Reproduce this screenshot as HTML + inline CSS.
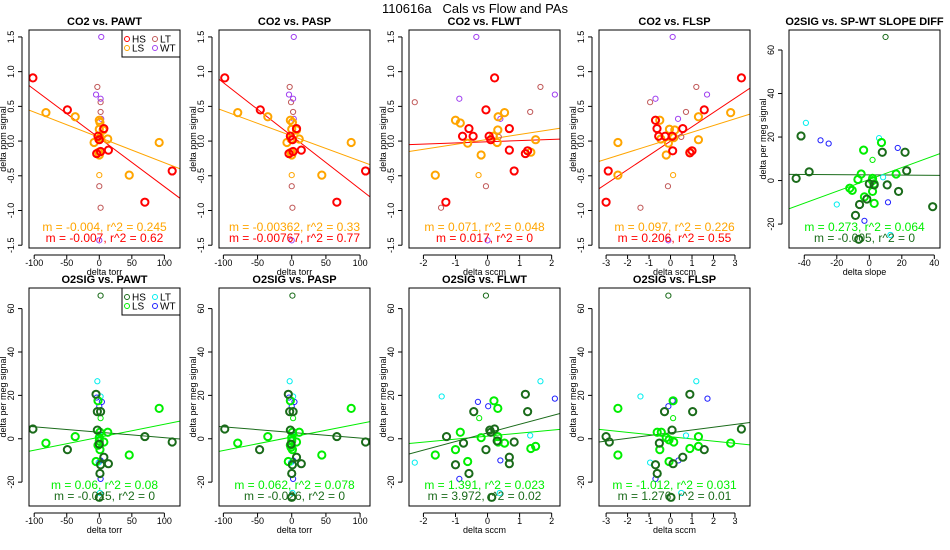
<!DOCTYPE html>
<html><head><meta charset="utf-8">
<style>
html,body{margin:0;padding:0;background:#fff;}
svg{display:block;font-family:"Liberation Sans",Arial,sans-serif;}
</style></head>
<body>
<svg id="chart" width="950" height="550" viewBox="0 0 950 550" xmlns="http://www.w3.org/2000/svg">
<text x="475" y="13" font-size="13" text-anchor="middle" xml:space="preserve">110616a&#160;&#160;&#160;Cals vs Flow and PAs</text>
</svg>
<script>
// ---- data (x, y pairs per group) ----
const co2PawtHS=[[-102,0.91],[-49,0.45],[-2,0.07],[0,0.02],[7,0.18],[14,-0.13],[2,-0.15],[-4,-0.18],[70,-0.88],[112,-0.43]];
const co2PawtLS=[[-82,0.41],[-37,0.35],[0,0.3],[1,0.27],[0,0.17],[6,0.16],[13,0.03],[-1,0.03],[-8,-0.02],[0,-0.2],[-1,-0.16],[46,-0.49],[92,-0.02],[1,0.05]];
const co2PawtLT=[[-3,0.78],[2,0.56],[2,0.42],[1,0.06],[0,-0.65],[2,-0.96]];
const co2PawtLSthin=[[0,-0.49]];
const co2PawtWT=[[3,1.5],[-5,0.67],[2,0.61],[3,0.32],[0,-1.43]];

const co2PaspHS=[[-98,0.91],[-46,0.45],[-2,0.07],[1,0.02],[7,0.18],[14,-0.13],[2,-0.15],[-4,-0.18],[66,-0.88],[108,-0.43]];
const co2PaspLS=[[-79,0.41],[-35,0.35],[-2,0.3],[1,0.27],[0,0.17],[7,0.16],[11,0.03],[-1,0.03],[-7,-0.02],[0,-0.2],[-1,-0.16],[44,-0.49],[87,-0.02]];
const co2PaspLT=[[-3,0.78],[-1,0.56],[2,0.42],[0,0.06],[0,-0.65],[1,-0.96]];
const co2PaspLSthin=[[0,-0.49]];
const co2PaspWT=[[3,1.5],[-4,0.67],[2,0.61],[3,0.32],[0,-1.43]];

const co2FlwtHS=[[0.22,0.91],[-0.05,0.45],[-0.58,0.18],[-0.78,0.07],[-0.45,0.07],[0.05,0.07],[0.1,0.02],[0.68,0.18],[0.68,-0.13],[1.18,-0.18],[1.25,-0.14],[0.83,-0.43],[-1.3,-0.88]];
const co2FlwtLS=[[-1.0,0.3],[-0.85,0.26],[0.53,0.41],[0.33,0.35],[0.32,0.16],[0.18,0.07],[-0.62,-0.03],[0.3,-0.02],[1.5,0.02],[1.35,-0.16],[-0.2,-0.2],[-1.63,-0.49]];
const co2FlwtLT=[[-2.27,0.56],[1.65,0.78],[1.33,0.42],[0.35,0.06],[-1.45,-0.96],[-0.05,-0.65]];
const co2FlwtLSthin=[[-0.28,-0.49]];
const co2FlwtWT=[[-0.35,1.5],[-0.88,0.61],[2.1,0.67],[0.4,0.32],[0.0,-1.43]];

const co2FlspHS=[[3.3,0.91],[1.57,0.45],[0.57,0.18],[-0.7,0.3],[-0.63,0.18],[-0.55,0.07],[-0.25,0.07],[0.08,0.07],[0.1,-0.14],[1.0,-0.14],[0.9,-0.17],[-2.9,-0.43],[-3.0,-0.88]];
const co2FlspLS=[[2.8,0.41],[1.3,0.35],[-0.5,0.3],[-0.05,0.17],[0.2,0.16],[-0.45,0.03],[0.15,0.05],[-0.1,-0.03],[1.3,0.02],[0.9,-0.16],[-0.2,-0.2],[-2.45,-0.02],[-2.45,-0.49]];
const co2FlspLT=[[1.2,0.78],[-0.95,0.56],[0.72,0.42],[0.5,0.06],[-0.12,-0.65],[-1.4,-0.96]];
const co2FlspLSthin=[[0.12,-0.49]];
const co2FlspWT=[[0.1,1.5],[-0.7,0.61],[1.7,0.67],[0.35,0.32],[-0.1,-1.43]];

const o2SlopeHS=[[-45,1],[-42,20.5],[-37,4],[-6,-11],[-8.5,-16],[-6.5,-27],[-1.5,-8.5],[0,-1.5],[8,13],[11,-2],[18,-5],[22,13],[23,4.5],[39,-12],[3,-2]];
const o2SlopeLS=[[-3.5,14],[-5,3],[-7,0.5],[-12,-3.5],[-10.5,-4.5],[-3,-7.5],[2,-5],[3,-10.5],[2,1],[3,-1.5],[7.5,17.5],[16.5,3],[2,0]];
const o2SlopeLSthin=[[2,9.5]];
const o2SlopeHSthin=[[10,66]];
const o2SlopeLT=[[-39,26.5],[-20,-11],[6,19.5],[8.5,1.5],[13,-25]];
const o2SlopeWT=[[-30,18.5],[-25,17],[17.5,15],[11.5,-10],[-3,-18.5]];

const o2PawtHS=[[-102,4.5],[-49,-5],[-5,20.5],[-3,12.5],[2,12.5],[-3,4],[0,-2.5],[7,-8.5],[14,-11.5],[2,-12],[1,-16],[0,-27],[70,1],[112,-1.5]];
const o2PawtLS=[[-82,-2],[-37,1],[-2,17.5],[1,3],[13,3],[0,0.5],[-2,-3],[7,-1.5],[1,-5],[-5,-10.5],[46,-7.5],[92,14],[0,-1]];
const o2PawtLSthin=[[2,9.5],[2,0]];
const o2PawtHSthin=[[2,66]];
const o2PawtLT=[[-3,26.5],[2,19.5],[1,1.5],[-1,-11],[1,-25]];
const o2PawtWT=[[-4,19],[0,15],[4,17],[2,-10],[2,-18.5]];

const o2PaspHS=[[-98,4.5],[-47,-5],[-5,20.5],[-3,12.5],[2,12.5],[-2,4],[-1,-2.5],[7,-8.5],[14,-11.5],[1,-12],[0,-16],[0,-27],[66,1],[108,-1.5]];
const o2PaspLS=[[-79,-2],[-35,1],[-2,17.5],[1,3],[11,3],[0,0.5],[-2,-3],[7,-1.5],[1,-5],[-5,-10.5],[44,-7.5],[87,14],[0,-1],[-1,-4]];
const o2PaspLSthin=[[2,9.5],[1,0]];
const o2PaspHSthin=[[1,66]];
const o2PaspLT=[[-3,26.5],[2,19.5],[1,1.5],[-1,-11],[1,-25]];
const o2PaspWT=[[-4,19],[0,15],[4,17],[2,-10],[2,-18.5]];

const o2FlwtHS=[[-1.28,1],[-0.75,-2],[-1.0,-12],[-0.58,-16],[-0.43,12.5],[-0.05,-5],[0.07,4],[0.22,4.5],[0.1,3],[0.3,-1],[0.83,-1.5],[0.68,-8.5],[0.68,-11.5],[1.18,20.5],[1.25,12.5],[0.13,-27]];
const o2FlwtLS=[[-1.63,-7.5],[-1.0,-5],[-0.85,3],[-0.62,-10.5],[-0.2,0.5],[0.2,17.5],[0.32,14],[0.32,1],[0.33,-1.5],[0.53,-2],[1.35,-4.5],[1.5,-3.5]];
const o2FlwtLSthin=[[-0.26,9.5]];
const o2FlwtHSthin=[[-0.05,66]];
const o2FlwtLT=[[-2.27,-11],[-1.43,19.5],[1.33,1.5],[1.65,26.5],[0.38,-25]];
const o2FlwtWT=[[-0.3,17],[0.02,15],[2.1,18.5],[0.4,-10],[-0.88,-18.5]];

const o2FlspHS=[[-3.0,1],[-2.85,-1.5],[-0.7,-12],[-0.62,-16],[-0.52,-2],[-0.28,12.5],[0.07,4],[0.12,-11.5],[0.57,-8.5],[0.9,20.5],[1.03,12.5],[1.57,-5],[3.3,4.5],[0.02,-27]];
const o2FlspLS=[[-2.45,14],[-2.45,-7.5],[-0.62,3],[-0.43,3],[-0.5,-5],[-0.2,0.5],[-0.07,-0.5],[0.15,-1.5],[0.12,17.5],[-0.07,-10.5],[0.9,-4.5],[1.3,1],[1.3,-3.5],[2.8,-2]];
const o2FlspLSthin=[[0.12,9.5]];
const o2FlspHSthin=[[-0.1,66]];
const o2FlspLT=[[-1.4,19.5],[-0.95,-11],[0.72,1.5],[1.2,26.5],[0.5,-25]];
const o2FlspWT=[[-0.1,15],[0.1,17.5],[1.72,18.5],[0.37,-10],[-0.7,-18.5]];

// regression lines [slope, intercept]
const fitCo2Pawt=[[-0.00365,0.053],[-0.007,0.044]];
const fitCo2Pasp=[[-0.00362,0.075],[-0.00767,0.074]];
const fitCo2Flwt=[[0.071,0.024],[0.017,-0.01]];
const fitCo2Flsp=[[0.097,0.03],[0.206,0.0]];
const fitO2Slope=[[0.273,0.5],[-0.005,2.6]];
const fitO2Pawt=[[0.06,0.7],[-0.025,3.0]];
const fitO2Pasp=[[0.062,0.8],[-0.026,2.9]];
const fitO2Flwt=[[1.391,1.2],[3.972,2.7]];
const fitO2Flsp=[[-1.012,0.93],[1.276,2.75]];

// stats text
const statsCo2=[["m = -0.004, r^2 = 0.245","m = -0.007, r^2 = 0.62"],["m = -0.00362, r^2 = 0.33","m = -0.00767, r^2 = 0.77"],["m = 0.071, r^2 = 0.048","m = 0.017, r^2 = 0"],["m = 0.097, r^2 = 0.226","m = 0.206, r^2 = 0.55"]];
const statsO2=[["m = 0.273, r^2 = 0.064","m = -0.005, r^2 = 0"],["m = 0.06, r^2 = 0.08","m = -0.025, r^2 = 0"],["m = 0.062, r^2 = 0.078","m = -0.026, r^2 = 0"],["m = 1.391, r^2 = 0.023","m = 3.972, r^2 = 0.02"],["m = -1.012, r^2 = 0.031","m = 1.276, r^2 = 0.01"]];

const ticksTorr=[-100,-50,0,50,100];
const ticksFlwt=[-2,-1,0,1,2];
const ticksFlsp=[-3,-2,-1,0,1,2,3];
const ticksSlope=[-40,-20,0,20,40];
const ticksCo2=[-1.5,-1.0,-0.5,0.0,0.5,1.0,1.5];
const ticksO2=[-20,0,20,40,60];

const NS="http://www.w3.org/2000/svg";
const svg=document.getElementById('chart');
function mk(tag,attrs,parent){const e=document.createElementNS(NS,tag);for(const k in attrs)e.setAttribute(k,attrs[k]);(parent||svg).appendChild(e);return e;}

const C={HS:'#ff0000',LS:'#ffa500',LT:'#c05858',WT:'#a040f0',HS2:'#1a6b1a',LS2:'#00ee00',LT2:'#00eeee',WT2:'#2020ff'};

function panel(cfg){
  const g=mk('g',{});
  
  
  const [L,R,T,B]=cfg.box;
  const sx=v=>L+(v-cfg.xr[0])/(cfg.xr[1]-cfg.xr[0])*(R-L);
  const sy=v=>B-(v-cfg.yr[0])/(cfg.yr[1]-cfg.yr[0])*(B-T);
  const t=mk('text',{x:(L+R)/2,y:T-5,'font-size':11,'font-weight':'bold','text-anchor':'middle'},g);
  t.textContent=cfg.title;
  
  
  const clip='clip'+cfg.name;
  const cp=mk('clipPath',{id:clip},g);mk('rect',{x:L,y:T,width:R-L,height:B-T},cp);
  const pg=mk('g',{'clip-path':'url(#'+clip+')'},g);
  cfg.fits.forEach((f,i)=>{
    const ln=mk('line',{x1:sx(cfg.xr[0]),y1:sy(f[0]*cfg.xr[0]+f[1]),x2:sx(cfg.xr[1]),y2:sy(f[0]*cfg.xr[1]+f[1]),stroke:cfg.fitColors[i],'stroke-width':1},pg);
    
    
  });
  cfg.groups.forEach(gr=>{
    gr.pts.forEach(p=>{
      const c=mk('circle',{cx:sx(p[0]),cy:sy(p[1]),r:gr.thick?3.6:2.6,fill:'none',stroke:gr.color,'stroke-width':gr.thick?2:1},pg);
      
      
    });
  });
  cfg.stats.forEach((s,i)=>{
    const st=mk('text',{x:(L+R)/2,y:B-(i===0?17:6),'font-size':12,'text-anchor':'middle',fill:cfg.fitColors[i]},g);
    st.textContent=s;
    
    
  });
  mk('rect',{x:L,y:T,width:R-L,height:B-T,fill:'none',stroke:'#000','stroke-width':1},g);
  const xt=cfg.xticks;
  mk('line',{x1:sx(xt[0]),y1:B+7,x2:sx(xt[xt.length-1]),y2:B+7,stroke:'#000'},g);
  xt.forEach(v=>{
    mk('line',{x1:sx(v),y1:B+7,x2:sx(v),y2:B+11,stroke:'#000'},g);
    const tl=mk('text',{x:sx(v),y:B+18,'font-size':9,'text-anchor':'middle'},g);
    tl.textContent=v;
    
    
  });
  const xa=mk('text',{x:(L+R)/2,y:B+27,'font-size':9,'text-anchor':'middle'},g);
  xa.textContent=cfg.xlab;
  
  
  const yt=cfg.yticks;
  mk('line',{x1:L-7,y1:sy(yt[0]),x2:L-7,y2:sy(yt[yt.length-1]),stroke:'#000'},g);
  yt.forEach(v=>{
    mk('line',{x1:L-7,y1:sy(v),x2:L-11,y2:sy(v),stroke:'#000'},g);
    const yl=mk('text',{x:L-15,y:sy(v),'font-size':9,'text-anchor':'middle',transform:`rotate(-90 ${L-15} ${sy(v)})`},g);
    yl.textContent=cfg.yfmt(v);
    
    
  });
  const ya=mk('text',{x:L-23,y:(T+B)/2,'font-size':9,'text-anchor':'middle',transform:`rotate(-90 ${L-23} ${(T+B)/2})`},g);
  ya.textContent=cfg.ylab;
  
  
  if(cfg.legend){
    const lg=mk('g',{},g);
    
    
    mk('rect',{x:R-58,y:T,width:58,height:27,fill:'#fff',stroke:'#000'},lg);
    cfg.legend.forEach((e,i)=>{
      const cx=R-53+(i%2)*28, cy=T+9+Math.floor(i/2)*9;
      mk('circle',{cx:cx,cy:cy,r:2.5,fill:'none',stroke:e[1],'stroke-width':1},lg);
      const lt=mk('text',{x:cx+5,y:cy+3.5,'font-size':10},lg);
      lt.textContent=e[0];
      
      
    });
  }
}
const fmt1=v=>v.toFixed(1), fmt0=v=>String(v);
const r1=[30,248], r2=[288,506];
const co2yr=[-1.54,1.60], o2yr=[-31,69.5];
const yl1='delta ppm signal', yl2='delta per meg signal';
function co2Groups(hs,ls,lt,lsthin,wt){return [{pts:lt,color:C.LT},{pts:lsthin,color:C.LS},{pts:wt,color:C.WT},{pts:ls,color:C.LS,thick:1},{pts:hs,color:C.HS,thick:1}];}
function o2Groups(hs,ls,lsthin,hsthin,lt,wt){return [{pts:lt,color:C.LT2},{pts:wt,color:C.WT2},{pts:lsthin,color:C.LS2},{pts:hsthin,color:C.HS2},{pts:ls,color:C.LS2,thick:1},{pts:hs,color:C.HS2,thick:1}];}

panel({name:'co2-vs-pawt',title:'CO2 vs. PAWT',box:[29,180,...r1],xr:[-108,124],yr:co2yr,xticks:ticksTorr,yticks:ticksCo2,yfmt:fmt1,xlab:'delta torr',ylab:yl1,fits:fitCo2Pawt,fitColors:[C.LS,C.HS],stats:statsCo2[0],groups:co2Groups(co2PawtHS,co2PawtLS,co2PawtLT,co2PawtLSthin,co2PawtWT),legend:[['HS',C.HS],['LT',C.LT],['LS',C.LS],['WT',C.WT]]});
panel({name:'co2-vs-pasp',title:'CO2 vs. PASP',box:[219,370,...r1],xr:[-106.4,114.5],yr:co2yr,xticks:ticksTorr,yticks:ticksCo2,yfmt:fmt1,xlab:'delta torr',ylab:yl1,fits:fitCo2Pasp,fitColors:[C.LS,C.HS],stats:statsCo2[1],groups:co2Groups(co2PaspHS,co2PaspLS,co2PaspLT,co2PaspLSthin,co2PaspWT)});
panel({name:'co2-vs-flwt',title:'CO2 vs. FLWT',box:[409,560,...r1],xr:[-2.45,2.26],yr:co2yr,xticks:ticksFlwt,yticks:ticksCo2,yfmt:fmt1,xlab:'delta sccm',ylab:yl1,fits:fitCo2Flwt,fitColors:[C.LS,C.HS],stats:statsCo2[2],groups:co2Groups(co2FlwtHS,co2FlwtLS,co2FlwtLT,co2FlwtLSthin,co2FlwtWT)});
panel({name:'co2-vs-flsp',title:'CO2 vs. FLSP',box:[599,750,...r1],xr:[-3.33,3.7],yr:co2yr,xticks:ticksFlsp,yticks:ticksCo2,yfmt:fmt1,xlab:'delta sccm',ylab:yl1,fits:fitCo2Flsp,fitColors:[C.LS,C.HS],stats:statsCo2[3],groups:co2Groups(co2FlspHS,co2FlspLS,co2FlspLT,co2FlspLSthin,co2FlspWT)});
panel({name:'o2sig-vs-slope-diff',title:'O2SIG vs. SP-WT SLOPE DIFF',box:[789,940,...r1],xr:[-49.4,43.5],yr:[-31,69.2],xticks:ticksSlope,yticks:ticksO2,yfmt:fmt0,xlab:'delta slope',ylab:yl2,fits:fitO2Slope,fitColors:[C.LS2,C.HS2],stats:statsO2[0],groups:o2Groups(o2SlopeHS,o2SlopeLS,o2SlopeLSthin,o2SlopeHSthin,o2SlopeLT,o2SlopeWT)});
panel({name:'o2sig-vs-pawt',title:'O2SIG vs. PAWT',box:[29,180,...r2],xr:[-108,124],yr:o2yr,xticks:ticksTorr,yticks:ticksO2,yfmt:fmt0,xlab:'delta torr',ylab:yl2,fits:fitO2Pawt,fitColors:[C.LS2,C.HS2],stats:statsO2[1],groups:o2Groups(o2PawtHS,o2PawtLS,o2PawtLSthin,o2PawtHSthin,o2PawtLT,o2PawtWT),legend:[['HS',C.HS2],['LT',C.LT2],['LS',C.LS2],['WT',C.WT2]]});
panel({name:'o2sig-vs-pasp',title:'O2SIG vs. PASP',box:[219,370,...r2],xr:[-106.4,114.5],yr:o2yr,xticks:ticksTorr,yticks:ticksO2,yfmt:fmt0,xlab:'delta torr',ylab:yl2,fits:fitO2Pasp,fitColors:[C.LS2,C.HS2],stats:statsO2[2],groups:o2Groups(o2PaspHS,o2PaspLS,o2PaspLSthin,o2PaspHSthin,o2PaspLT,o2PaspWT)});
panel({name:'o2sig-vs-flwt',title:'O2SIG vs. FLWT',box:[409,560,...r2],xr:[-2.45,2.26],yr:o2yr,xticks:ticksFlwt,yticks:ticksO2,yfmt:fmt0,xlab:'delta sccm',ylab:yl2,fits:fitO2Flwt,fitColors:[C.LS2,C.HS2],stats:statsO2[3],groups:o2Groups(o2FlwtHS,o2FlwtLS,o2FlwtLSthin,o2FlwtHSthin,o2FlwtLT,o2FlwtWT)});
panel({name:'o2sig-vs-flsp',title:'O2SIG vs. FLSP',box:[599,750,...r2],xr:[-3.33,3.7],yr:o2yr,xticks:ticksFlsp,yticks:ticksO2,yfmt:fmt0,xlab:'delta sccm',ylab:yl2,fits:fitO2Flsp,fitColors:[C.LS2,C.HS2],stats:statsO2[4],groups:o2Groups(o2FlspHS,o2FlspLS,o2FlspLSthin,o2FlspHSthin,o2FlspLT,o2FlspWT)});
</script>
</body></html>
